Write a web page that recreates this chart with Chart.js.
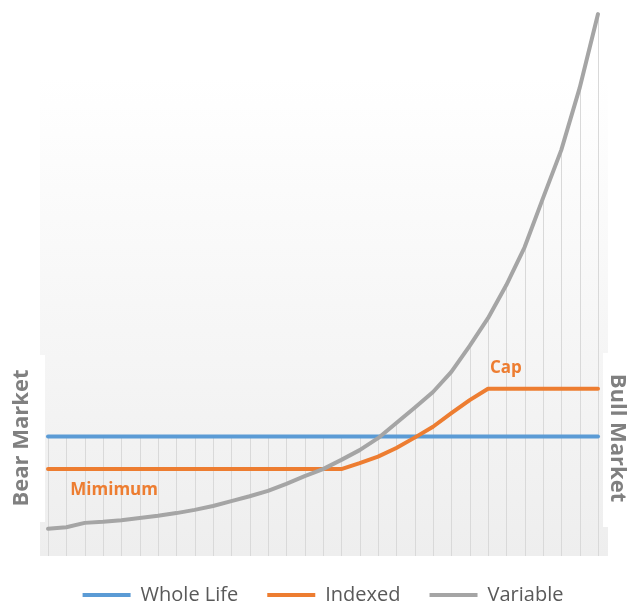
<!DOCTYPE html>
<html>
<head>
<meta charset="utf-8">
<script src="https://cdn.jsdelivr.net/npm/chart.js@4.4.1/dist/chart.umd.min.js"></script>
<style>
  html, body { margin: 0; padding: 0; background: #ffffff; }
  canvas { display: block; }
</style>
</head>
<body>
<canvas id="chart" width="629" height="605"></canvas>
<script>
// Policy periods along the market scale (bear on the left, bull on the right)
const periods = [1, 2, 3, 4, 5, 6, 7, 8, 9, 10, 11, 12, 13, 14, 15, 16,
                 17, 18, 19, 20, 21, 22, 23, 24, 25, 26, 27, 28, 29, 30, 31];

// Credited value for each product type
const wholeLife = [22, 22, 22, 22, 22, 22, 22, 22, 22, 22, 22, 22, 22, 22, 22, 22,
                   22, 22, 22, 22, 22, 22, 22, 22, 22, 22, 22, 22, 22, 22, 22];
const indexed   = [16, 16, 16, 16, 16, 16, 16, 16, 16, 16, 16, 16, 16, 16, 16, 16,
                   16, 17.1, 18.3, 19.9, 21.8, 23.8, 26.3, 28.7,
                   30.8, 30.8, 30.8, 30.8, 30.8, 30.8, 30.8];
const variable  = [5.0, 5.3, 6.1, 6.3, 6.6, 7.0, 7.4, 7.9, 8.5, 9.2, 10.1, 11.0,
                   12.0, 13.3, 14.7, 16.0, 17.7, 19.5, 21.7, 24.5, 27.3, 30.2,
                   33.9, 38.7, 43.8, 49.9, 56.9, 65.9, 74.8, 86.2, 99.8];

const seriesNames  = ['Whole Life', 'Indexed', 'Variable'];
const seriesColors = ['#5b9bd5', '#ed7d31', '#a5a5a5'];
const sideTitles   = ['Bear Market', 'Bull Market'];
const noteLabels   = ['Mimimum', 'Cap'];

// Soft gradient panel behind the plot plus white plates under the side titles
const backdrop = {
  id: 'backdrop',
  beforeDraw(chart) {
    const { ctx, chartArea: a } = chart;
    const top = a.top + 64, left = a.left - 8, right = a.right + 10, bottom = a.bottom;
    const g = ctx.createLinearGradient(0, top, 0, bottom);
    g.addColorStop(0, '#ffffff');
    g.addColorStop(1, '#eeeeee');
    ctx.save();
    ctx.fillStyle = g;
    ctx.fillRect(left, top, right - left, bottom - top);
    ctx.fillStyle = '#ffffff';
    ctx.fillRect(0, a.bottom - 201, a.left - 3, 167);
    ctx.fillRect(a.right + 5, a.bottom - 203, chart.width - (a.right + 5), 174);
    ctx.restore();
  }
};

// Drop lines from the highest series at each period down to the base
const dropLines = {
  id: 'dropLines',
  beforeDatasetsDraw(chart) {
    const { ctx, chartArea: a } = chart;
    const metas = chart.getSortedVisibleDatasetMetas();
    const n = metas[0].data.length;
    ctx.save();
    ctx.strokeStyle = '#d9d9d9';
    ctx.lineWidth = 1;
    for (let i = 0; i < n; i++) {
      let top = Infinity;
      metas.forEach(m => { top = Math.min(top, m.data[i].y); });
      const px = Math.round(metas[0].data[i].x) + 0.5;
      ctx.beginPath();
      ctx.moveTo(px, top);
      ctx.lineTo(px, a.bottom);
      ctx.stroke();
    }
    ctx.restore();
  }
};

// Side titles and the notes on the indexed line
const annotations = {
  id: 'annotations',
  afterDatasetsDraw(chart) {
    const { ctx, chartArea: a, scales: { x, y } } = chart;
    const cy = a.bottom - 118;
    ctx.save();
    ctx.font = 'bold 22px "Open Sans"';
    ctx.fillStyle = '#808080';
    ctx.textAlign = 'center';
    ctx.textBaseline = 'middle';
    ctx.save();
    ctx.translate(a.left - 26, cy);
    ctx.rotate(-Math.PI / 2);
    ctx.fillText(sideTitles[0], 0, 0);
    ctx.restore();
    ctx.save();
    ctx.translate(a.right + 19, cy);
    ctx.rotate(Math.PI / 2);
    ctx.fillText(sideTitles[1], 0, 0);
    ctx.restore();

    ctx.font = 'bold 17px "Open Sans"';
    ctx.fillStyle = '#ed7d31';
    ctx.textAlign = 'left';
    ctx.fillText(noteLabels[0], x.getPixelForValue(1) + 4, y.getPixelForValue(indexed[1]) + 21);
    ctx.fillText(noteLabels[1], x.getPixelForValue(24) + 2, y.getPixelForValue(indexed[24]) - 21);
    ctx.restore();
  }
};

const seriesData = [wholeLife, indexed, variable];

new Chart(document.getElementById('chart'), {
  type: 'line',
  data: {
    labels: periods,
    datasets: seriesData.map((d, i) => ({
      label: seriesNames[i],
      data: d,
      borderColor: seriesColors[i],
      backgroundColor: seriesColors[i],
      borderWidth: 4,
      pointRadius: 0,
      tension: 0,
      fill: false,
      clip: false,
      borderJoinStyle: 'round',
      borderCapStyle: 'round',
      order: 3 - i
    }))
  },
  options: {
    responsive: false,
    animation: false,
    devicePixelRatio: 1,
    layout: { padding: { left: 48, right: 31, top: 13, bottom: -10 } },
    scales: {
      x: { display: false, offset: false },
      y: { display: false, min: 0, max: 100 }
    },
    plugins: {
      tooltip: { enabled: false },
      legend: {
        position: 'bottom',
        labels: {
          boxWidth: 48,
          boxHeight: 4,
          padding: 29,
          color: '#595959',
          font: { family: 'Open Sans', size: 20 },
          sort: (a, b) => a.datasetIndex - b.datasetIndex,
          generateLabels(chart) {
            return Chart.defaults.plugins.legend.labels.generateLabels(chart)
              .map(l => Object.assign({}, l, { fillStyle: l.strokeStyle, lineWidth: 0 }));
          }
        }
      }
    }
  },
  plugins: [backdrop, dropLines, annotations]
});
</script>
</body>
</html>
